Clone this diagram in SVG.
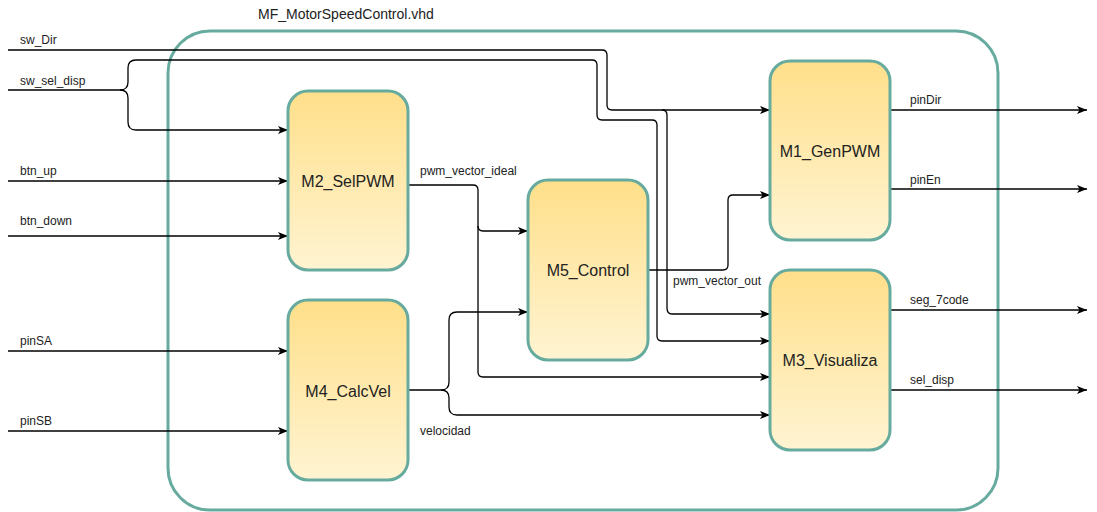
<svg xmlns="http://www.w3.org/2000/svg" width="1097" height="512" viewBox="0 0 1097 512">
<style>
.blk{stroke:#67AB9F;stroke-width:3;fill:url(#g)}
.w{fill:none;stroke:#000;stroke-width:1.3}
.wa{fill:none;stroke:#000;stroke-width:1.3;marker-end:url(#arr)}
.lb{font-family:"Liberation Sans",Arial,sans-serif;font-size:12px;fill:#222}
.bt{font-family:"Liberation Sans",Arial,sans-serif;font-size:16px;fill:#222;text-anchor:middle;dominant-baseline:central}
</style>
<defs>
<linearGradient id="g" x1="0" y1="0" x2="0" y2="1">
<stop offset="0" stop-color="#FFDF8A"/>
<stop offset="1" stop-color="#FFF4D2"/>
</linearGradient>
<marker id="arr" markerUnits="userSpaceOnUse" markerWidth="12" markerHeight="10" refX="10" refY="4" orient="auto">
<path d="M0,0 L10,4 L0,8 L2.5,4 Z" fill="#000"/>
</marker>
</defs>
<rect x="0" y="0" width="1097" height="512" fill="#fff"/>
<g id="container">
<rect x="168" y="31" width="830" height="479" rx="42" fill="none" stroke="#67AB9F" stroke-width="3"/>
<text x="258" y="19" class="lb" style="font-size:14px">MF_MotorSpeedControl.vhd</text>
</g>
<g id="connectors">
<path class="wa" d="M8,50 H602 Q607,50 607,55 V105 Q607,110 612,110 H770"/>
<path class="wa" d="M662,110 Q667,110 667,115 V308 Q667,314 672,314 H770"/>
<path class="wa" d="M8,90 H120 Q128,90 128,82 V68 Q128,60 136,60 H592 Q597,60 597,65 V115 Q597,120 602,120 H652 Q657,120 657,125 V336 Q657,341 662,341 H770"/>
<path class="wa" d="M120,90 Q128,90 128,98 V122 Q128,130 136,130 H288"/>
<path class="wa" d="M8,181 H288"/>
<path class="wa" d="M8,236 H288"/>
<path class="wa" d="M8,351 H288"/>
<path class="wa" d="M8,431 H288"/>
<path class="wa" d="M408,185 H473 Q478,185 478,190 V226 Q478,231 483,231 H528"/>
<path class="wa" d="M478,226 V372 Q478,377 483,377 H770"/>
<path class="wa" d="M408,390 H441 Q449,390 449,382 V320 Q449,312 457,312 H528"/>
<path class="wa" d="M441,390 Q449,390 449,398 V407 Q449,415 457,415 H770"/>
<path class="wa" d="M648,270 H723 Q728,270 728,265 V200 Q728,195 733,195 H770"/>
<path class="wa" d="M890,110 H1087"/>
<path class="wa" d="M890,189 H1087"/>
<path class="wa" d="M890,310 H1087"/>
<path class="wa" d="M890,390 H1087"/>
<text x="20" y="44" class="lb">sw_Dir</text>
<text x="20" y="85" class="lb">sw_sel_disp</text>
<text x="20" y="175" class="lb">btn_up</text>
<text x="20" y="225" class="lb">btn_down</text>
<text x="20" y="345" class="lb">pinSA</text>
<text x="20" y="425" class="lb">pinSB</text>
<text x="420" y="175" class="lb">pwm_vector_ideal</text>
<text x="420" y="435" class="lb">velocidad</text>
<text x="673" y="285" class="lb">pwm_vector_out</text>
<text x="910" y="104" class="lb">pinDir</text>
<text x="910" y="184" class="lb">pinEn</text>
<text x="910" y="304" class="lb">seg_7code</text>
<text x="910" y="384" class="lb">sel_disp</text>
</g>
<g id="M2_SelPWM"><rect class="blk" x="288" y="91" width="120" height="179" rx="20"/><text class="bt" x="348" y="181">M2_SelPWM</text></g>
<g id="M4_CalcVel"><rect class="blk" x="288" y="300" width="120" height="180" rx="20"/><text class="bt" x="348" y="391">M4_CalcVel</text></g>
<g id="M5_Control"><rect class="blk" x="528" y="180" width="120" height="180" rx="20"/><text class="bt" x="588" y="270">M5_Control</text></g>
<g id="M1_GenPWM"><rect class="blk" x="770" y="61" width="120" height="179" rx="20"/><text class="bt" x="830" y="151">M1_GenPWM</text></g>
<g id="M3_Visualiza"><rect class="blk" x="770" y="270" width="120" height="180" rx="20"/><text class="bt" x="830" y="360">M3_Visualiza</text></g>
</svg>
